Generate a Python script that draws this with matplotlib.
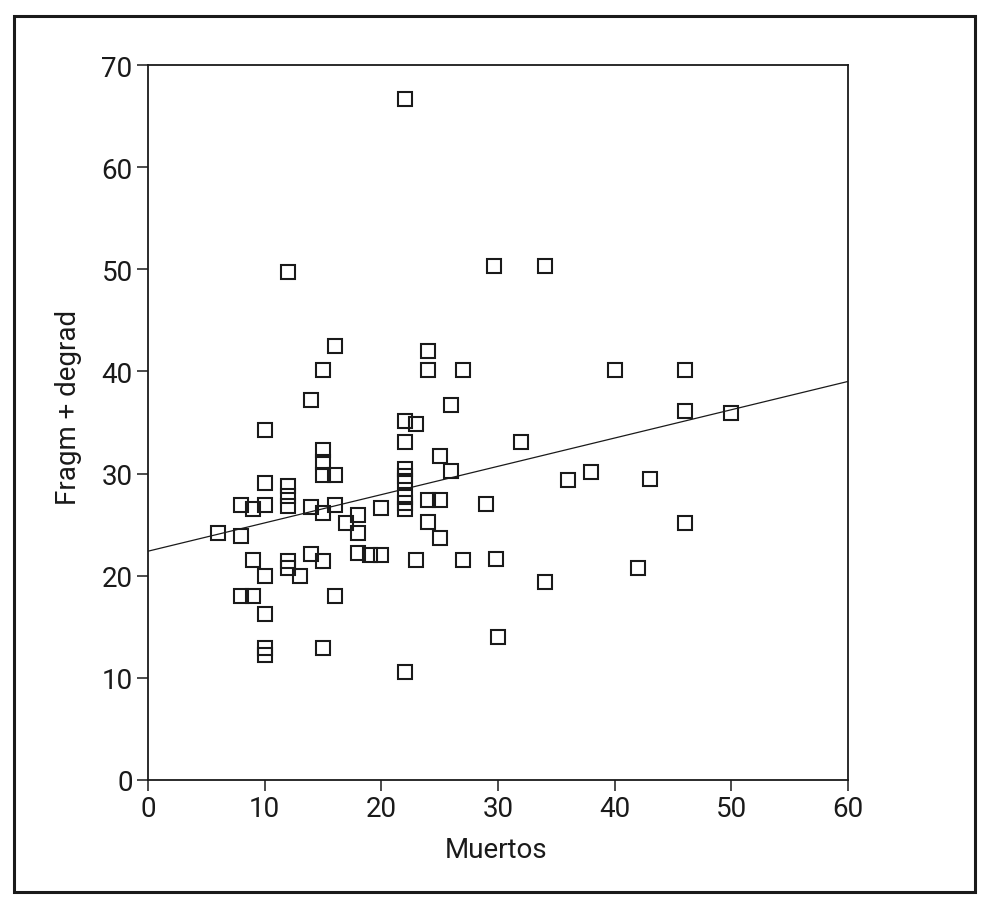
import matplotlib
matplotlib.use('Agg')
import matplotlib.pyplot as plt
from matplotlib.patches import Rectangle

# ============================================================
# 数据: 每个点 = (Muertos, Fragm + degrad)
# ============================================================
muertos = [22, 12, 29.7, 34, 16, 24, 15, 24, 27, 40, 46, 14, 26, 46, 50,
           22, 23, 10, 22, 32, 15, 25, 15, 22, 22, 22, 26, 38, 15, 16,
           43, 36, 10, 12, 12, 24, 25, 22, 22, 22, 12, 29, 8, 10, 14,
           16, 9, 20, 15, 18, 17, 24, 46, 6, 18, 8, 25, 14, 18, 19,
           20, 9, 15, 23, 27, 29.8, 12, 12, 42, 10, 13, 34, 8, 9, 16,
           10, 30, 10, 15, 10, 22]
fragm = [66.7, 49.7, 50.3, 50.3, 42.5, 42.0, 40.1, 40.1, 40.1, 40.1, 40.1, 37.2, 36.7, 36.1, 35.9,
         35.1, 34.9, 34.3, 33.1, 33.1, 32.3, 31.7, 31.1, 30.4, 29.8, 29.3, 30.3, 30.2, 29.9, 29.9,
         29.5, 29.4, 29.1, 28.8, 27.8, 27.4, 27.4, 27.7, 27.1, 26.5, 26.8, 27.0, 26.9, 26.9, 26.7,
         26.9, 26.5, 26.6, 26.1, 25.9, 25.2, 25.3, 25.2, 24.2, 24.2, 23.9, 23.7, 22.1, 22.2, 22.0,
         22.0, 21.5, 21.4, 21.5, 21.5, 21.6, 21.4, 20.8, 20.8, 20.0, 20.0, 19.4, 18.0, 18.0, 18.0,
         16.3, 14.0, 12.9, 12.9, 12.2, 10.6]

# 回归线
intercept = 22.4
slope = 0.277
line_x = [0, 60]

x_ticks = [0, 10, 20, 30, 40, 50, 60]
y_ticks = [0, 10, 20, 30, 40, 50, 60, 70]

# ============================================================
# 绘图
# ============================================================
plt.rcParams['font.family'] = ['Roboto', 'DejaVu Sans']

W, H = 987, 904
fig = plt.figure(figsize=(W / 100, H / 100), dpi=100)

# 外框
fig.patches.append(Rectangle((14 / W, (H - 893) / H), 961 / W, 876 / H,
                             transform=fig.transFigure, fill=False,
                             edgecolor='#1a1a1a', linewidth=2.2))

ax = fig.add_axes([148 / W, (H - 781) / H, 700 / W, 715 / H])

ax.plot(line_x, [intercept + slope * v for v in line_x], color='#1a1a1a', linewidth=0.9)
ax.plot(muertos, fragm, linestyle='none', marker='s', markersize=9.5,
        markerfacecolor='none', markeredgecolor='#1a1a1a', markeredgewidth=1.5)

ax.set_xlim(0, 60)
ax.set_ylim(0, 70)
ax.set_xticks(x_ticks)
ax.set_yticks(y_ticks)
ax.tick_params(direction='out', length=8, width=1.1, color='#1a1a1a',
               labelsize=20, labelcolor='#1a1a1a', pad=3)
for s in ax.spines.values():
    s.set_linewidth(1.3)
    s.set_color('#1a1a1a')

ax.set_xlabel('Muertos', fontsize=20, color='#1a1a1a')
ax.set_ylabel('Fragm + degrad', fontsize=20, color='#1a1a1a')
ax.xaxis.set_label_coords(0.497, -0.078)
ax.yaxis.set_label_coords(-0.094, 0.522)

fig.savefig('out.png', dpi=100)
